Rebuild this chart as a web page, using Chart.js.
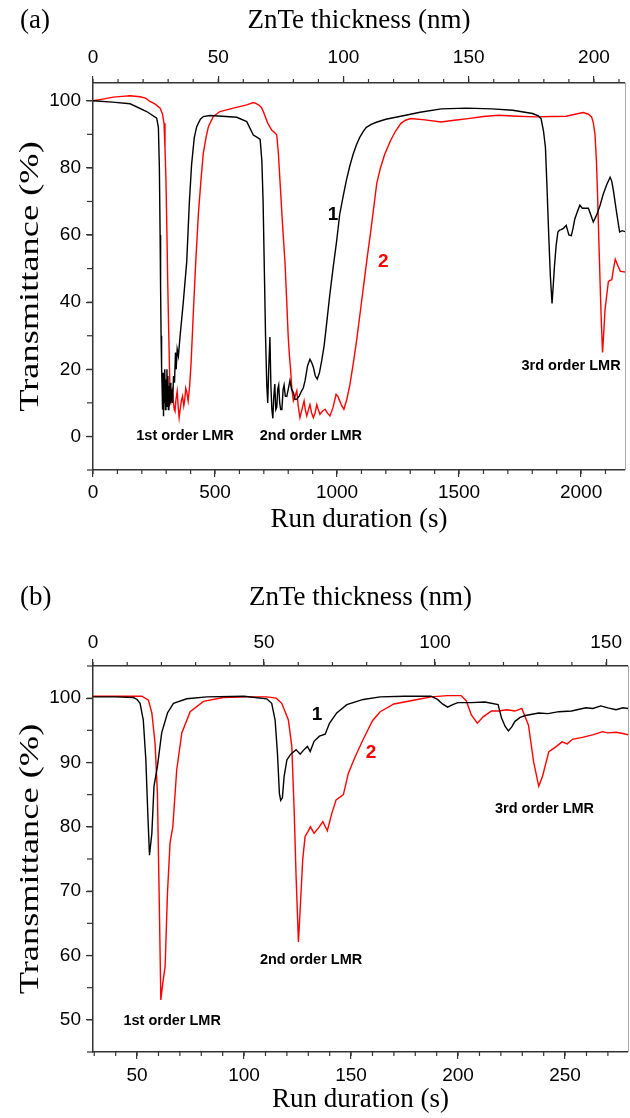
<!DOCTYPE html>
<html>
<head>
<meta charset="utf-8">
<script src="https://cdn.jsdelivr.net/npm/chart.js@4"></script>
<style>
  body { margin: 0; background: #fff; }
  canvas { position: absolute; left: 0; }
  #chartA { top: 0; }
  #chartB { top: 545px; }
</style>
</head>
<body>
<canvas id="chartA" width="630" height="545"></canvas>
<canvas id="chartB" width="630" height="573"></canvas>
<script>
// ---- panel (a): run duration (s) -> transmittance (%) ----
var timeA1 = [0, 80, 152, 220, 261, 268, 272, 275, 277, 279,
  281, 283, 285, 287, 289, 291, 293, 295, 297, 299,
  301, 303, 305, 307, 309, 311, 313, 316, 319, 322,
  326, 330, 334, 338, 341, 345, 350, 357, 370, 384,
  395, 404, 415, 425, 440, 452, 480, 530, 589, 630,
  657, 673, 685, 692, 697, 702, 707, 712, 716, 720,
  725, 729, 733, 737, 741, 745, 749, 753, 757, 761,
  765, 769, 774, 779, 783, 788, 794, 800, 807, 814,
  821, 828, 835, 845, 855, 862, 869, 879, 889, 896,
  903, 911, 919, 928, 937, 947, 957, 970, 984, 998,
  1011, 1025, 1038, 1052, 1066, 1080, 1093, 1107, 1120, 1140,
  1161, 1200, 1261, 1340, 1427, 1530, 1635, 1720, 1801, 1825,
  1836, 1846, 1854, 1860, 1867, 1874, 1881, 1886, 1891, 1898,
  1905, 1912, 1918, 1928, 1939, 1950, 1960, 1967, 1974, 1985,
  1995, 2005, 2016, 2030, 2040, 2050, 2064, 2078, 2090, 2105,
  2119, 2126, 2133, 2145, 2158, 2168, 2180];
var transA1 = [100, 99.6, 99.1, 96.8, 94.8, 92, 80, 60, 44, 30,
  21, 15, 8, 19, 6, 17, 10, 20, 8, 17,
  9, 20, 11, 18, 8, 15, 9, 16, 10, 14,
  10, 18, 16, 25, 20, 26, 24, 30, 40, 52,
  70, 81, 89, 92.3, 94.5, 95.3, 95.6, 95.4, 95.1, 93.8,
  89.8, 89.1, 88.5, 82, 70, 50, 30, 15.6, 10, 20,
  29.6, 15, 8, 5.4, 12, 15.6, 8, 8.7, 14, 15.3,
  10, 8, 8, 14, 15.3, 12, 11.9, 14, 16.6, 14,
  13.1, 11, 11.1, 12, 13.6, 14.5, 16.6, 21, 23, 22,
  20.6, 18, 17.1, 19, 22.5, 27, 33.4, 42, 50.3, 58,
  66.2, 71.5, 76.2, 80.5, 84.1, 87, 89.1, 90.8, 92.1, 93,
  93.6, 94.5, 95.4, 96.6, 97.6, 97.8, 97.6, 97.2, 96.2, 95.5,
  94.7, 91, 86.1, 75, 60.9, 48, 39.6, 45, 50.8, 57,
  60.9, 61.5, 61.6, 62, 62.9, 60, 59.8, 62, 64.7, 67,
  68.9, 68, 68, 68, 66, 63.9, 66, 68.9, 72, 75,
  77.2, 76, 73, 67, 60.9, 61.3, 61];

var timeA2 = [0, 40, 83, 120, 152, 193, 215, 234, 255, 275,
  285, 291, 295, 299, 303, 306, 310, 313, 316, 318,
  322, 326, 330, 333, 336, 340, 345, 349, 353, 357,
  362, 367, 372, 376, 380, 385, 390, 396, 402, 411,
  421, 432, 442, 452, 463, 473, 493, 520, 575, 630,
  657, 665, 678, 690, 698, 715, 732, 745, 753, 760,
  766, 776, 787, 794, 800, 805, 810, 815, 821, 828,
  835, 841, 848, 856, 865, 870, 876, 883, 889, 896,
  903, 910, 917, 923, 930, 940, 951, 960, 971, 983,
  996, 1003, 1011, 1020, 1028, 1040, 1053, 1067, 1081, 1095,
  1109, 1123, 1137, 1150, 1163, 1178, 1195, 1219, 1240, 1261,
  1280, 1302, 1360, 1427, 1480, 1537, 1600, 1662, 1740, 1815,
  1880, 1939, 1975, 2009, 2030, 2043, 2050, 2057, 2063, 2068,
  2073, 2078, 2083, 2088, 2093, 2098, 2105, 2112, 2119, 2126,
  2133, 2140, 2150, 2161, 2170, 2180];
var transA2 = [100, 100.5, 101.1, 101.3, 101.5, 101.2, 100.8, 99.8, 99, 97.8,
  96, 93.3, 86, 76.4, 60, 46.5, 32, 21.6, 12, 9.5,
  14, 14.4, 10, 8, 7.5, 11, 13.5, 9, 5.6, 8,
  10.6, 12, 9.1, 11, 14.4, 13, 10.6, 15, 22, 36.6,
  52, 66.4, 76, 84.4, 89, 92.3, 95.3, 96.8, 97.8, 98.8,
  99.5, 99.3, 98.8, 98, 96.8, 93.5, 91.3, 90.5, 89.8, 84,
  76.4, 64, 51.5, 40, 29.6, 24, 19.6, 14, 10.6, 12,
  13.6, 9, 5.6, 8, 10.6, 8, 6.1, 8, 9.5, 7,
  5.6, 7, 9.5, 8, 6.6, 7.5, 8.1, 7, 6.1, 8.5,
  12.5, 12, 10.6, 9, 8.1, 11, 15.5, 22, 29, 37,
  45, 53, 60.5, 68, 75.5, 80, 84, 88.1, 91, 93.2,
  94.2, 94.7, 94.3, 93.7, 94.2, 94.7, 95.3, 95.7, 95.4, 95.2,
  95.3, 95.4, 96, 96.5, 96, 95.2, 93.5, 90.1, 82, 71,
  58, 45.7, 34, 25, 31, 37.6, 42, 46.2, 46.5, 46.7,
  50, 52.8, 51, 49.2, 49.1, 49];

// ---- panel (b) ----
var timeB1 = [29.5, 40, 48.3, 50, 51.4, 52.9, 54.1, 55, 55.8, 56.9,
  57.9, 59.5, 61.5, 64.2, 67, 73.2, 82.6, 100, 110.6, 112.9,
  114.5, 115.6, 116.5, 117.1, 117.9, 118.7, 120, 121.8, 124.3, 126.2,
  128, 129.6, 130.9, 132.7, 135.2, 137.9, 139.9, 143.3, 148, 155.7,
  163.6, 175, 187.3, 190.4, 192.7, 195.1, 197.5, 199.9, 206.2, 212.5,
  218.7, 220.3, 222, 223.5, 225, 226.6, 229, 231.4, 237.7, 242,
  247.1, 253, 259.7, 263, 266.7, 270, 273.8, 277, 279.5];
var transB1 = [100.2, 100.2, 100.1, 99.8, 99.2, 96.6, 90.4, 82.1, 75.6, 79,
  86.3, 89.4, 94.6, 97.7, 99.2, 99.9, 100.2, 100.3, 99.9, 99.2,
  96.6, 91.4, 85.2, 84.1, 84.5, 87.8, 90.4, 91.3, 92, 91.3,
  92, 92.5, 91.7, 93.3, 94.1, 94.4, 96.1, 97.7, 99, 99.8,
  100.2, 100.3, 100.3, 99.8, 99.1, 98.6, 99, 99.3, 99.3, 99.4,
  99, 96.9, 95.6, 94.9, 95.5, 96.4, 97, 97.3, 97.7, 97.6,
  97.9, 98, 98.5, 98.4, 98.8, 98.5, 98.2, 98.5, 98.4];

var timeB2 = [29.5, 45, 52.2, 55.3, 56.9, 58.4, 59.5, 60.3, 61.1, 62,
  63.1, 64.2, 65.4, 66.7, 68.5, 70.9, 74.8, 81, 90.3, 100,
  110.6, 115, 117.6, 120.7, 122.3, 123.4, 124.3, 125.4, 126.2, 127.4,
  128.5, 129.9, 131, 132.7, 134.7, 136.8, 138.9, 141, 143, 146.4,
  148.7, 151.9, 155.8, 160, 163.6, 170, 181, 187.3, 195, 201.4,
  203.8, 206.2, 209, 211.7, 215.6, 218.8, 222.7, 226.6, 229.8, 232.9,
  235.3, 237.7, 239.5, 242.4, 245.5, 248.6, 251, 253.4, 258.1, 262.8,
  267.5, 270, 273.8, 277, 279.5];
var transB2 = [100.3, 100.3, 100.3, 99.7, 97.7, 93, 85.2, 69.7, 53.1, 55.7,
  58.3, 69.7, 77.5, 80, 88.8, 94.6, 97.9, 99.5, 100.1, 100.2,
  100.2, 100, 99.2, 96.6, 92.5, 82.6, 72.3, 62.1, 67.1, 74.9,
  78.5, 79.3, 80, 79, 79.8, 80.8, 79.4, 82.1, 84.2, 85,
  88.3, 90.9, 93.7, 96.5, 97.9, 99.1, 99.8, 100.2, 100.4, 100.4,
  99.6, 97.4, 96.1, 97.1, 98, 98, 98.2, 98, 98.4, 95.8,
  90.1, 86.3, 87.9, 91.7, 92.4, 93.2, 92.9, 93.6, 93.9, 94.3,
  94.8, 94.6, 94.7, 94.5, 94.3];

// tick labels
var runTicksA = [0, 500, 1000, 1500, 2000];
var thickTicksA = [0, 50, 100, 150, 200];
var transTicksA = [0, 20, 40, 60, 80, 100];
var runTicksB = [50, 100, 150, 200, 250];
var thickTicksB = [0, 50, 100, 150];
var transTicksB = [50, 60, 70, 80, 90, 100];

var tickFont = { family: "Liberation Sans", size: 19 };
var titleFont = { family: "Liberation Serif", size: 27 };
var noteFont = "bold 14.5px 'Liberation Sans'";
var numFont = "bold 19px 'Liberation Sans'";

function points(xs, ys) {
  return xs.map(function (x, i) {
    return { x: x, y: ys[i] };
  });
}

// minor ticks, labels in data units, panel letter, y title and right frame
function extrasPlugin(minor, notes, tag, tagY) {
  return {
    id: "extras",
    afterDraw: function (chart) {
      var ctx = chart.ctx;
      ctx.save();
      ctx.strokeStyle = "#333";
      ctx.lineWidth = 1.2;
      Object.keys(minor).forEach(function (id) {
        var s = chart.scales[id];
        var step = minor[id];
        for (var k = Math.ceil(s.min / step); k * step <= s.max + 1e-9; k++) {
          var p = s.getPixelForValue(k * step);
          ctx.beginPath();
          if (s.position === "bottom") {
            ctx.moveTo(p, s.top); ctx.lineTo(p, s.top + 4);
          } else if (s.position === "top") {
            ctx.moveTo(p, s.bottom); ctx.lineTo(p, s.bottom - 4);
          } else {
            ctx.moveTo(s.right, p); ctx.lineTo(s.right - 6, p);
          }
          ctx.stroke();
        }
      });
      var area = chart.chartArea;
      ctx.strokeStyle = "#aaa";
      ctx.lineWidth = 1;
      ctx.beginPath();
      ctx.moveTo(area.right + 0.5, area.top);
      ctx.lineTo(area.right + 0.5, area.bottom);
      ctx.stroke();

      var xs = chart.scales.x, ys = chart.scales.y;
      ctx.textAlign = "center";
      ctx.textBaseline = "middle";
      notes.forEach(function (n) {
        ctx.font = n[4];
        ctx.fillStyle = n[3];
        ctx.fillText(n[0], xs.getPixelForValue(n[1]), ys.getPixelForValue(n[2]));
      });

      // y title is drawn a bit stretched along its length, like the original
      ctx.fillStyle = "#000";
      ctx.font = "28px 'Liberation Serif'";
      ctx.save();
      ctx.translate(31, (area.top + area.bottom) / 2);
      ctx.rotate(-Math.PI / 2);
      ctx.scale(1.3, 1);
      ctx.fillText("Transmittance (%)", 0, 0);
      ctx.restore();

      ctx.textAlign = "left";
      ctx.font = "27px 'Liberation Serif'";
      ctx.fillText(tag, 20, tagY);
      ctx.restore();
    }
  };
}

function axis(pos, min, max, list, size, title, titlePad, tickPad) {
  var horiz = pos !== "left";
  return {
    type: "linear",
    position: pos,
    min: min,
    max: max,
    afterBuildTicks: function (s) {
      s.ticks = list.map(function (v) { return { value: v }; });
    },
    afterFit: function (s) {
      if (horiz) s.height = size; else s.width = size;
    },
    ticks: {
      font: tickFont, color: "#000", padding: tickPad, maxRotation: 0, autoSkip: false,
      callback: function (v) { return String(v); }
    },
    grid: { drawOnChartArea: false, tickLength: 7, color: "#333", lineWidth: 1.2 },
    border: { color: "#333", width: 1.5 },
    title: { display: horiz, text: title, font: titleFont, color: "#000", padding: titlePad }
  };
}

function makePanel(id, p) {
  var ctx = document.getElementById(id);
  return new Chart(ctx, {
    type: "line",
    data: {
      datasets: [
        { data: points(p.t1, p.v1), borderColor: "#000", borderWidth: 1.4, pointRadius: 0, tension: 0 },
        { data: points(p.t2, p.v2), borderColor: "#ff0000", borderWidth: 1.4, pointRadius: 0, tension: 0 }
      ]
    },
    options: {
      responsive: false,
      animation: false,
      layout: { padding: { left: 0, right: p.right, top: 0, bottom: 0 } },
      plugins: { legend: { display: false }, tooltip: { enabled: false } },
      scales: {
        x: axis("bottom", p.xmin, p.xmax, p.runTicks, p.bottomH, "Run duration (s)", { top: 0, bottom: p.botPad }, p.botTickPad),
        x2: axis("top", 0, p.thickMax, p.thickTicks, p.topH, "ZnTe thickness (nm)", { top: p.topPad, bottom: 0 }, p.topTickPad),
        y: axis("left", p.ymin, p.ymax, p.transTicks, 93, "Transmittance (%)", { top: 15, bottom: 0 }, 5)
      }
    },
    plugins: [extrasPlugin(p.minor, p.notes, p.tag, p.tagY)]
  });
}

makePanel("chartA", {
  t1: timeA1, v1: transA1, t2: timeA2, v2: transA2,
  xmin: 0, xmax: 2180, ymin: -10, ymax: 105.3, thickMax: 212.4,
  runTicks: runTicksA, thickTicks: thickTicksA, transTicks: transTicksA,
  bottomH: 75, topH: 83, right: 5, botPad: 9, topPad: 5, botTickPad: 4, topTickPad: 7,
  minor: { x: 100, x2: 10, y: 10 },
  notes: [
    ["1st order LMR", 377, 0, "#000", noteFont],
    ["2nd order LMR", 893, 0, "#000", noteFont],
    ["3rd order LMR", 1959, 21.1, "#000", noteFont],
    ["1", 984, 65.9, "#000", numFont],
    ["2", 1189, 51.9, "#ff0000", numFont]
  ],
  tag: "(a)", tagY: 21
});

makePanel("chartB", {
  t1: timeB1, v1: transB1, t2: timeB2, v2: transB2,
  xmin: 29.4, xmax: 279.4, ymin: 45, ymax: 105, thickMax: 156.4,
  runTicks: runTicksB, thickTicks: thickTicksB, transTicks: transTicksB,
  bottomH: 66, topH: 121, right: 2, botPad: 2, topPad: 37, botTickPad: 5, topTickPad: 5,
  minor: { x: 10, x2: 10, y: 5 },
  notes: [
    ["1st order LMR", 66.4, 49.8, "#000", noteFont],
    ["2nd order LMR", 131.3, 59.3, "#000", noteFont],
    ["3rd order LMR", 240.4, 82.7, "#000", noteFont],
    ["1", 134.1, 97.4, "#000", numFont],
    ["2", 159.3, 91.5, "#ff0000", numFont]
  ],
  tag: "(b)", tagY: 53
});
</script>
</body>
</html>
